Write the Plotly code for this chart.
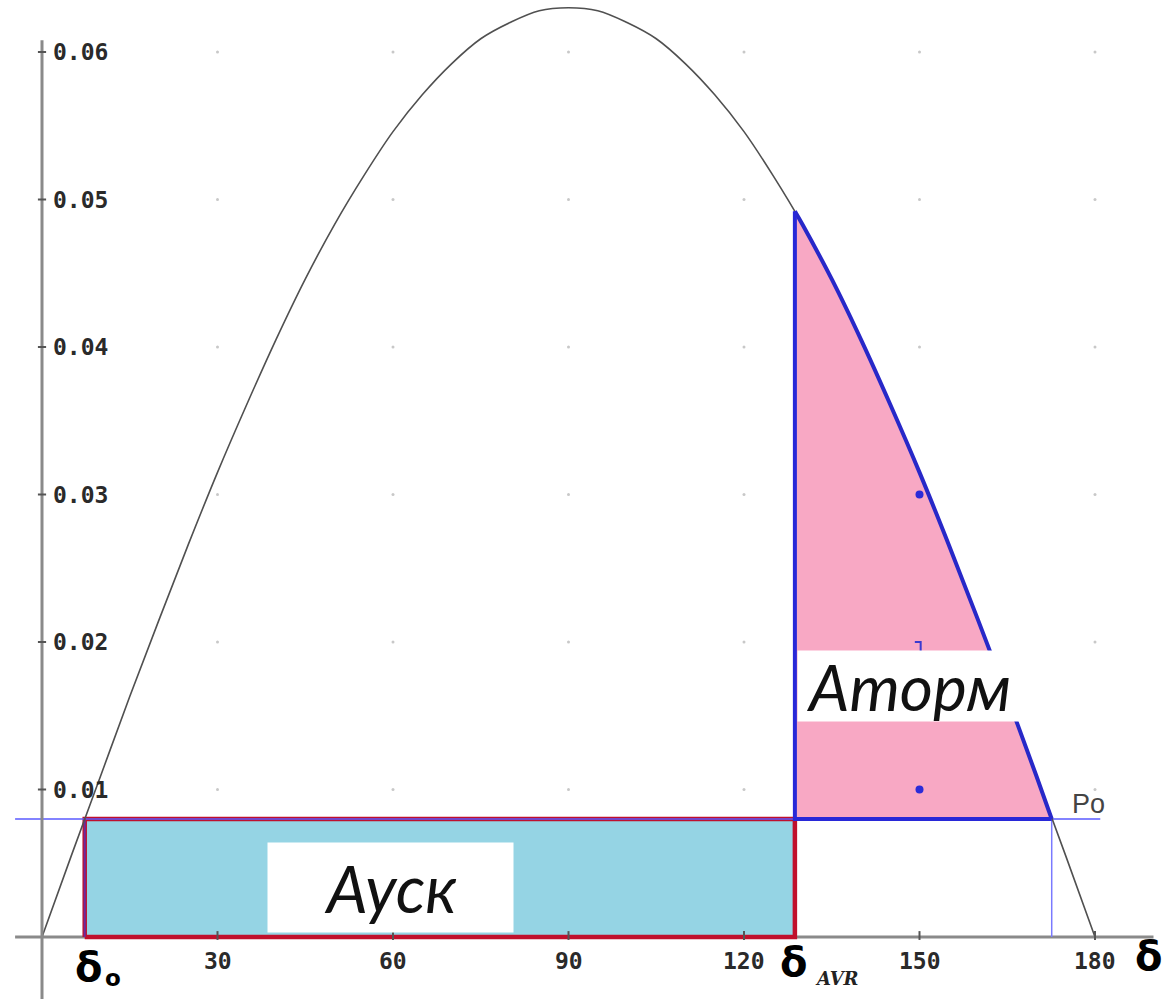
import plotly.graph_objects as go

# --- data ---
delta_deg = [0, 5, 10, 15, 20, 25, 30, 35, 40, 45, 50, 55, 60, 65, 70, 75, 80, 85, 90,
             95, 100, 105, 110, 115, 120, 125, 130, 135, 140, 145, 150, 155, 160, 165, 170, 175, 180]
power = [0.0, 0.0055, 0.0109, 0.0163, 0.0215, 0.0266, 0.0315, 0.0361, 0.0405, 0.0446, 0.0483,
         0.0516, 0.0546, 0.0571, 0.0592, 0.0609, 0.0620, 0.0628, 0.0630,
         0.0628, 0.0620, 0.0609, 0.0592, 0.0571, 0.0546, 0.0516, 0.0483, 0.0446, 0.0405,
         0.0361, 0.0315, 0.0266, 0.0215, 0.0163, 0.0109, 0.0055, 0.0]
p0 = 0.008
delta_0 = 7.3
delta_avr = 128.7
p_at_avr = 0.0492
delta_max = 172.6
x_ticks = [30, 60, 90, 120, 150, 180]
x_tick_labels = ["30", "60", "90", "120", "150", "180"]
y_ticks = [0.01, 0.02, 0.03, 0.04, 0.05, 0.06]
y_tick_labels = ["0.01", "0.02", "0.03", "0.04", "0.05", "0.06"]
marker_x = [150, 150]
marker_y = [0.03, 0.01]

# plot ranges (axis x=0 at px 42, y=0 at px 937)
xr = [-42 / 5.85, (1173 - 42) / 5.85]
yr = [-(999 - 937) / 14750, 937 / 14750]

fig = go.Figure()

# grid dots
gx, gy = [], []
for yv in y_ticks:
    for xv in x_ticks:
        gx.append(xv); gy.append(yv)
fig.add_trace(go.Scatter(x=gx, y=gy, mode="markers",
                         marker=dict(size=3, color="#c8c8c8"), hoverinfo="skip"))

# accelerating area (cyan rectangle)
fig.add_trace(go.Scatter(x=[delta_0, delta_avr, delta_avr, delta_0, delta_0],
                         y=[0, 0, p0, p0, 0], mode="lines", fill="toself",
                         fillcolor="#95d4e4", line=dict(color="#c0102c", width=4.5),
                         hoverinfo="skip"))

# braking area (pink) - fill
seg_x = [delta_avr] + [d for d in delta_deg if delta_avr < d < delta_max] + [delta_max]
seg_y = [p_at_avr] + [p for d, p in zip(delta_deg, power) if delta_avr < d < delta_max] + [p0]
fig.add_trace(go.Scatter(x=[delta_avr] + seg_x + [delta_avr], y=[p0] + seg_y + [p0],
                         mode="lines", fill="toself", fillcolor="#f8a8c4",
                         line=dict(width=0), hoverinfo="skip"))

# thin blue helper lines
fig.add_trace(go.Scatter(x=[-4.6, 180.9], y=[p0, p0], mode="lines",
                         line=dict(color="#5a5aff", width=1.5), hoverinfo="skip"))
fig.add_trace(go.Scatter(x=[delta_max, delta_max], y=[0, p0], mode="lines",
                         line=dict(color="#7a7aff", width=1.5), hoverinfo="skip"))
fig.add_trace(go.Scatter(x=[delta_0, delta_0], y=[0, p0], mode="lines",
                         line=dict(color="#6a2aa0", width=2), hoverinfo="skip"))

# power-angle curve
fig.add_trace(go.Scatter(x=delta_deg, y=power, mode="lines", line_shape="spline",
                         line=dict(color="#505050", width=1.6), hoverinfo="skip"))

# braking area border
fig.add_trace(go.Scatter(x=seg_x, y=seg_y, mode="lines", line_shape="spline",
                         line=dict(color="#2828c8", width=4), hoverinfo="skip"))
fig.add_trace(go.Scatter(x=[delta_max, delta_avr, delta_avr], y=[p0, p0, p_at_avr],
                         mode="lines", line=dict(color="#2828d8", width=4), hoverinfo="skip"))

# blue points
fig.add_trace(go.Scatter(x=marker_x, y=marker_y, mode="markers",
                         marker=dict(size=8, color="#2b2bd8"), hoverinfo="skip"))
# small bracket near (150, 0.02)
fig.add_trace(go.Scatter(x=[149.2, 150.2, 150.2], y=[0.02, 0.02, 0.0193], mode="lines",
                         line=dict(color="#3a3ad0", width=2), hoverinfo="skip"))

shapes = []
# axes
shapes.append(dict(type="line", xref="x", yref="y", x0=-4.6, x1=190, y0=0, y1=0,
                   line=dict(color="#8a8a8a", width=3), layer="below"))
shapes.append(dict(type="line", xref="x", yref="y", x0=0, x1=0, y0=yr[0], y1=0.0608,
                   line=dict(color="#8a8a8a", width=3)))
for t in y_ticks:
    shapes.append(dict(type="line", xref="x", yref="y", x0=-0.7, x1=0.7, y0=t, y1=t,
                       line=dict(color="#555555", width=2)))
for t in x_ticks:
    shapes.append(dict(type="line", xref="x", yref="y", x0=t, x1=t, y0=-0.0002, y1=0.0004,
                       line=dict(color="#555555", width=2)))

annotations = []
tick_font = dict(family="DejaVu Sans Mono", size=23, color="#2a2a2a")
for t, lab in zip(y_ticks, y_tick_labels):
    annotations.append(dict(x=1.6, y=t, xref="x", yref="y", text="<b>" + lab + "</b>",
                            showarrow=False, xanchor="left", yanchor="middle", font=tick_font))
for t, lab in zip(x_ticks, x_tick_labels):
    annotations.append(dict(x=t, y=-0.0016, xref="x", yref="y", text="<b>" + lab + "</b>",
                            showarrow=False, xanchor="center", yanchor="middle", font=tick_font))

# area labels
annotations.append(dict(x=59.6, y=0.00336, xref="x", yref="y", text="<i>Ауск</i>",
                        showarrow=False, bgcolor="white", borderpad=0,
                        width=245, height=89, xanchor="center", yanchor="middle",
                        font=dict(family="Lato", size=65, color="#111111")))
annotations.append(dict(x=148.2, y=0.01705, xref="x", yref="y", text="<i>Аторм</i>",
                        showarrow=False, bgcolor="white", borderpad=0,
                        width=222, height=70, xanchor="center", yanchor="middle",
                        font=dict(family="Lato", size=64, color="#111111")))
annotations.append(dict(x=175.8, y=0.0090, xref="x", yref="y", text="Po",
                        showarrow=False, xanchor="left", yanchor="middle",
                        font=dict(family="Liberation Sans", size=27, color="#444444")))

# delta labels
dfont = dict(family="DejaVu Sans", size=40, color="#000000")
annotations.append(dict(x=7.9, y=-0.0020, xref="x", yref="y", text="<b>δ</b>",
                        showarrow=False, xanchor="center", yanchor="middle", font=dfont))
annotations.append(dict(x=12.1, y=-0.0028, xref="x", yref="y", text="<b>o</b>",
                        showarrow=False, xanchor="center", yanchor="middle",
                        font=dict(family="DejaVu Sans", size=23, color="#000000")))
annotations.append(dict(x=128.4, y=-0.0017, xref="x", yref="y", text="<b>δ</b>",
                        showarrow=False, xanchor="center", yanchor="middle", font=dfont))
annotations.append(dict(x=135.9, y=-0.0028, xref="x", yref="y", text="<b><i>AVR</i></b>",
                        showarrow=False, xanchor="center", yanchor="middle",
                        font=dict(family="DejaVu Serif", size=18, color="#222222")))
annotations.append(dict(x=189.1, y=-0.0013, xref="x", yref="y", text="<b>δ</b>",
                        showarrow=False, xanchor="center", yanchor="middle", font=dfont))

fig.update_layout(
    width=1173, height=999,
    margin=dict(l=0, r=0, t=0, b=0),
    paper_bgcolor="white", plot_bgcolor="white",
    showlegend=False,
    xaxis=dict(range=xr, visible=False, fixedrange=True),
    yaxis=dict(range=yr, visible=False, fixedrange=True),
    shapes=shapes, annotations=annotations,
)
fig.write_html("out.html", config={"displayModeBar": False},
               post_script="document.body.style.margin='0px';document.body.style.overflow='hidden';")
